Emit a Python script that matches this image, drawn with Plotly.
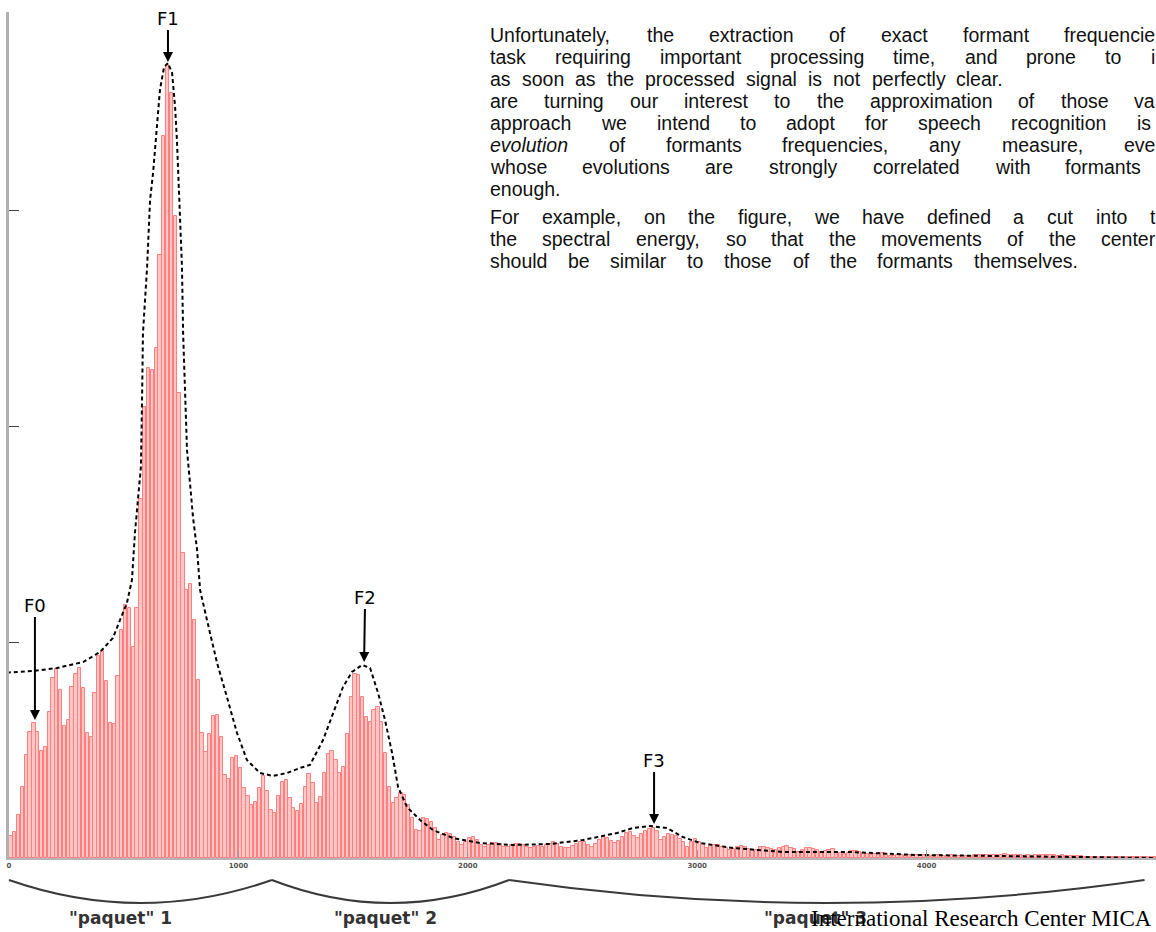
import re
import plotly.graph_objects as go

# ---------------- data ----------------
BIN_HZ = 5000 / 300  # spectral bin width (Hz)

# spectrum magnitudes (arbitrary units), one per bin, 0 -> 5000 Hz
MAG = [
    22, 26, 43, 71, 103, 126, 135, 126, 107, 111, 146, 180, 189, 168, 132, 138, 171, 184, 190, 170,
    125, 121, 165, 202, 207, 177, 135, 134, 182, 228, 253, 250, 211, 250, 359, 451, 490, 488, 510, 603,
    722, 793, 765, 642, 465, 305, 268, 274, 238, 178, 125, 106, 124, 142, 143, 121, 83, 79, 100, 102,
    90, 70, 62, 53, 56, 70, 82, 67, 48, 45, 62, 76, 78, 60, 50, 47, 54, 71, 84, 75,
    55, 61, 85, 104, 107, 98, 85, 91, 124, 161, 184, 183, 161, 141, 136, 148, 151, 136, 105, 71,
    55, 60, 65, 63, 53, 40, 28, 27, 40, 39, 36, 30, 18, 23, 25, 24, 21, 16, 13, 16,
    20, 21, 18, 13, 11, 13, 15, 15, 14, 11, 11, 13, 14, 14, 13, 11, 10, 11, 12, 11,
    13, 14, 16, 14, 11, 10, 10, 12, 14, 16, 16, 13, 11, 14, 18, 21, 20, 17, 15, 17,
    21, 25, 26, 22, 20, 24, 27, 29, 30, 27, 18, 21, 24, 23, 22, 19, 16, 11, 16, 19,
    16, 14, 10, 12, 13, 13, 11, 10, 8, 9, 11, 12, 11, 9, 8, 8, 11, 11, 10, 9,
    8, 10, 11, 12, 10, 9, 6, 8, 10, 10, 9, 8, 6, 7, 8, 9, 6, 5, 4, 5,
    7, 7, 6, 5, 4, 3, 4, 5, 5, 4, 2, 2, 3, 3, 2, 3, 3, 3, 3, 3,
    3, 2, 3, 3, 2, 2, 3, 2, 2, 2, 2, 2, 3, 3, 3, 3, 3, 3, 3, 3,
    4, 3, 3, 3, 3, 2, 3, 2, 3, 3, 3, 3, 3, 3, 2, 3, 2, 2, 2, 2,
    2, 1, 1, 1, 1, 1, 1, 1, 1, 1, 1, 1, 1, 1, 1, 1, 1, 1, 1, 1,
]

# spectral envelope (dashed)
ENV_HZ = [-40, 105, 209, 323, 397, 453, 484, 514, 536, 549, 562, 575, 580, 584, 602, 615, 628, 645,
          658, 676, 693, 711, 724, 732, 741, 754, 759, 767, 776, 789, 802, 820, 833, 863, 907, 950,
          994, 1037, 1094, 1151, 1212, 1268, 1312, 1369, 1412, 1456, 1495, 1539, 1574, 1609, 1639,
          1670, 1696, 1735, 1792, 1848, 1935, 2053, 2197, 2358, 2502, 2650, 2720, 2794, 2868, 2938,
          3012, 3156, 3374, 3666, 3958, 4246, 5000]
ENV_MAG = [185, 187, 190, 196, 206, 220, 238, 255, 278, 325, 358, 391, 458, 525, 591, 658, 685, 735,
           768, 791, 795, 785, 751, 718, 658, 591, 525, 458, 408, 375, 341, 308, 268, 238, 195, 161,
           125, 98, 85, 82, 85, 90, 93, 118, 145, 171, 186, 193, 190, 165, 138,
           105, 71, 51, 38, 28, 20, 15, 13, 14, 18, 25, 30, 32, 30, 21,
           15, 10, 6, 6, 3, 2, 0]

# formant markers
FORMANT_LABELS = ["F0", "F1", "F2", "F3"]
FORMANT_HZ = [113, 693, 1548, 2812]
FORMANT_MAG = [138, 796, 196, 34]

# "paquets" (frequency bands)
PAQUET_LABELS = ['"paquet" 1', '"paquet" 2', '"paquet" 3']
PAQUET_BOUNDS_HZ = [0, 1146, 2180, 4950]

X_TICKS = [0, 1000, 2000, 3000, 4000, 5000]
Y_TICK_STEP = 216

TEXT_LINES = [
    "Unfortunately, the extraction of exact formant frequencie",
    "task requiring important processing time, and prone to i",
    "as soon as the processed signal is not perfectly clear.",
    "are turning our interest to the approximation of those va",
    "approach we intend to adopt for speech recognition is",
    "<i>evolution</i> of formants frequencies, any measure, eve",
    "whose evolutions are strongly correlated with formants",
    "enough.",
    "For example, on the figure, we have defined a cut into t",
    "the spectral energy, so that the movements of the center",
    "should be similar to those of the formants themselves.",
]
FOOTER = "International Research Center MICA"

# ---------------- layout helpers ----------------
W, H = 1156, 932
ML, MR, MT, MB = 9, 0, 12, 74
PW, PH = W - ML - MR, H - MT - MB


def px(xp):
    return (xp - ML) / PW


def py(yp):
    return (H - MB - yp) / PH


# Arial / Liberation Sans advance widths (1/1000 em)
AW = {" ": 278, ",": 278, ".": 278, "-": 333, '"': 355, "'": 191,
      "A": 667, "B": 667, "C": 722, "D": 722, "E": 667, "F": 611, "G": 778, "H": 722, "I": 278,
      "J": 500, "K": 667, "L": 556, "M": 833, "N": 722, "O": 778, "P": 667, "Q": 778, "R": 722,
      "S": 667, "T": 611, "U": 722, "V": 667, "W": 944, "X": 667, "Y": 667, "Z": 611,
      "a": 556, "b": 556, "c": 500, "d": 556, "e": 556, "f": 278, "g": 556, "h": 556, "i": 222,
      "j": 222, "k": 500, "l": 222, "m": 833, "n": 556, "o": 556, "p": 556, "q": 556, "r": 333,
      "s": 500, "t": 278, "u": 556, "v": 500, "w": 722, "x": 500, "y": 500, "z": 500}


def text_w(s, size):
    s = re.sub(r"<[^>]+>", "", s)
    return sum(AW.get(c, 556) for c in s) * size / 1000


freqs = [(i + 0.5) * BIN_HZ for i in range(len(MAG))]

fig = go.Figure()
fig.add_trace(go.Bar(
    x=freqs, y=MAG, width=BIN_HZ * 0.86,
    marker=dict(color="#ffc6c6", line=dict(color="#ff7f7f", width=1)),
    hoverinfo="skip",
))
fig.add_trace(go.Scatter(
    x=ENV_HZ, y=ENV_MAG, mode="lines",
    line=dict(color="black", width=2, dash="4px,3px"),
    hoverinfo="skip", cliponaxis=False,
))

annotations = []
label_offsets = [(0, -115), (0, -44), (1, -65), (0, -64)]
for lab, fx, fy, (ax, ay) in zip(FORMANT_LABELS, FORMANT_HZ, FORMANT_MAG, label_offsets):
    annotations.append(dict(
        x=fx, y=fy, xref="x", yref="y", text=lab, showarrow=True,
        arrowhead=2, arrowsize=1, arrowwidth=2, arrowcolor="black",
        ax=ax, ay=ay, font=dict(family="DejaVu Sans", size=18, color="black"),
    ))

# paragraph text, justified like the source page
TXT_SIZE = 19.5
TXT_X0 = 489
line_y = [35, 57, 79, 101, 123, 145, 167, 189, 217, 239, 261]
line_end = [1154, 1154, 1003, 1154, 1150, 1154, 1140, None, 1154, 1154, 1077]
for t, yy, xe in zip(TEXT_LINES, line_y, line_end):
    words = t.split(" ")
    widths = [text_w(w, TXT_SIZE) for w in words]
    gap = AW[" "] * TXT_SIZE / 1000
    if xe is not None and len(words) > 1:
        gap = max(gap, (xe - TXT_X0 - sum(widths)) / (len(words) - 1))
    xcur = TXT_X0
    for w, wd in zip(words, widths):
        annotations.append(dict(
            x=px(xcur), y=py(yy), xref="paper", yref="paper", text=w, showarrow=False,
            xanchor="left", yanchor="middle", borderpad=0,
            font=dict(family="Liberation Sans", size=TXT_SIZE, color="#111"),
        ))
        xcur += wd + gap

# band braces and labels
shapes = []
for i, lab in enumerate(PAQUET_LABELS):
    x0 = PAQUET_BOUNDS_HZ[i] / 5000
    x1 = PAQUET_BOUNDS_HZ[i + 1] / 5000
    xm = (x0 + x1) / 2
    ytop = py(880)
    ybot = py(903)
    yc = 2 * ybot - ytop
    shapes.append(dict(
        type="path", xref="paper", yref="paper",
        path=f"M {x0},{ytop} Q {xm},{yc} {x1},{ytop}",
        line=dict(color="#3a3a3a", width=2),
    ))

paquet_x = [120, 385, 815]
for lab, xx in zip(PAQUET_LABELS, paquet_x):
    annotations.append(dict(
        x=px(xx), y=py(918), xref="paper", yref="paper", text=lab, showarrow=False,
        xanchor="center", yanchor="middle",
        font=dict(family="DejaVu Sans", size=17, color="#333", weight="bold"),
    ))

annotations.append(dict(
    x=px(1154), y=py(918), xref="paper", yref="paper", text=FOOTER, showarrow=False,
    xanchor="right", yanchor="middle",
    font=dict(family="Liberation Serif", size=23, color="black"),
))

fig.update_layout(
    width=W, height=H,
    margin=dict(l=ML, r=MR, t=MT, b=MB, pad=0),
    paper_bgcolor="white", plot_bgcolor="white",
    showlegend=False, bargap=0,
    annotations=annotations, shapes=shapes,
    xaxis=dict(
        range=[0, 5000], tickvals=X_TICKS, ticktext=[str(v) for v in X_TICKS],
        showline=True, linecolor="#b5b5b5", linewidth=2,
        ticks="inside", ticklen=8, tickcolor="#999", tickwidth=1,
        showgrid=False, zeroline=False,
        tickfont=dict(family="DejaVu Sans", size=7, color="#555", weight="bold"),
    ),
    yaxis=dict(
        range=[0, PH], dtick=Y_TICK_STEP, tick0=0,
        showline=True, linecolor="#b0b0b0", linewidth=3,
        ticks="inside", ticklen=10, tickcolor="#444", tickwidth=1,
        showticklabels=False, showgrid=False, zeroline=False,
    ),
)

fig.write_html("out.html")
